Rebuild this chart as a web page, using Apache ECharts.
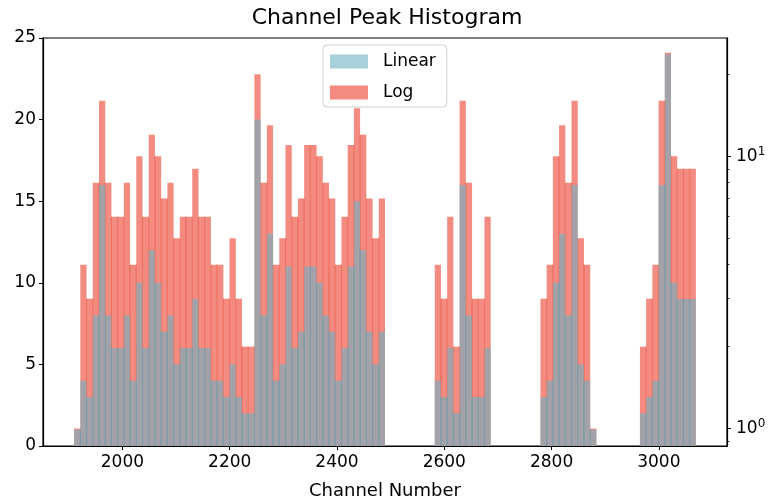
<!DOCTYPE html>
<html><head><meta charset="utf-8">
<script src="https://cdn.jsdelivr.net/npm/echarts@6/dist/echarts.min.js"></script>
<style>html,body{margin:0;padding:0;background:#fff}#c{width:774px;height:500px}</style>
</head><body><div id="c"></div>
<script>
// ---- data ----
const titleText = 'Channel Peak Histogram';
const xAxisName = 'Channel Number';
const seriesNames = ['Linear', 'Log'];
const binLow = 1910.0;      // left edge of first bin
const binHigh = 3069.0;     // right edge of last bin
const counts = [
  1, 4, 3, 8, 16, 8, 6, 6, 8, 4,
  10, 6, 12, 10, 7, 8, 5, 6, 6, 9,
  6, 6, 4, 4, 3, 5, 3, 2, 2, 20,
  8, 13, 4, 5, 11, 6, 7, 11, 11, 10,
  8, 7, 4, 6, 11, 15, 12, 7, 5, 7,
  0, 0, 0, 0, 0, 0, 0, 0, 4, 3,
  6, 2, 16, 8, 3, 3, 6, 0, 0, 0,
  0, 0, 0, 0, 0, 3, 4, 10, 13, 8,
  16, 5, 4, 1, 0, 0, 0, 0, 0, 0,
  0, 2, 3, 4, 16, 24, 10, 9, 9, 9
];
const xTicks = [2000, 2200, 2400, 2600, 2800, 3000];
const yTicksLinear = [0, 5, 10, 15, 20, 25];
const yTicksLog = [1, 10];
const yMinorLog = [0.9, 2, 3, 4, 5, 6, 7, 8, 9, 20];

// ---- axis ranges ----
const xMin = 1852, xMax = 3127;
const linMin = 0, linMax = 25;
const logMin = 0.863, logMax = 27.2;

// ---- build bar rows: [x0, x1, count, seamCount] ----
const binW = (binHigh - binLow) / counts.length;
const rows = [];
counts.forEach((c, i) => {
  if (c > 0) {
    const prev = i > 0 ? counts[i - 1] : 0;
    rows.push([binLow + i * binW, binLow + (i + 1) * binW, c, Math.min(c, prev)]);
  }
});

function makeRender(baseVal, fill, seam) {
  return function (params, api) {
    const x0 = api.value(0), x1 = api.value(1), v = api.value(2), s = api.value(3);
    const pTop0 = api.coord([x0, v]);
    const pTop1 = api.coord([x1, v]);
    const pBase = api.coord([x0, baseVal]);
    const children = [{
      type: 'rect',
      shape: { x: pTop0[0], y: pTop0[1], width: pTop1[0] - pTop0[0], height: pBase[1] - pTop0[1] },
      style: { fill: fill }
    }];
    if (s > 0) {
      const pS = api.coord([x0, s]);
      children.push({
        type: 'line',
        shape: { x1: pTop0[0], y1: pBase[1], x2: pTop0[0], y2: pS[1] },
        style: { stroke: seam, lineWidth: 0.8 }
      });
    }
    return { type: 'group', children: children };
  };
}

const font = 'DejaVu Sans';
const chart = echarts.init(document.getElementById('c'), null, { renderer: 'canvas' });
chart.setOption({
  animation: false,
  backgroundColor: '#fff',
  title: {
    text: titleText, left: 'center', top: 2,
    textStyle: { fontFamily: font, fontSize: 22, fontWeight: 'normal', color: '#000' }
  },
  legend: {
    data: seriesNames, orient: 'vertical', left: 323, top: 45,
    icon: 'rect', itemWidth: 38, itemHeight: 14, itemGap: 14,
    padding: [8, 11, 6, 7],
    borderColor: '#d0d0d0', borderWidth: 1, borderRadius: 4,
    backgroundColor: 'rgba(255,255,255,0.8)',
    textStyle: { fontFamily: font, fontSize: 17, color: '#000', lineHeight: 14, padding: [0, 0, 0, 10] }
  },
  grid: {
    left: 43, right: 47, top: 38, bottom: 54,
    outerBoundsMode: 'none', containLabel: false,
    show: true, borderColor: '#000', borderWidth: 1.2, backgroundColor: 'transparent'
  },
  xAxis: {
    type: 'value', min: xMin, max: xMax,
    name: xAxisName, nameLocation: 'middle', nameGap: 36,
    nameTextStyle: { fontFamily: font, fontSize: 18, color: '#000' },
    axisLine: { show: true, lineStyle: { color: '#000', width: 1.2 } },
    axisTick: { show: true, customValues: xTicks, length: 4, lineStyle: { color: '#000', width: 1 } },
    axisLabel: { customValues: xTicks, fontFamily: font, fontSize: 17, color: '#000', margin: 8,
      formatter: v => String(v) },
    splitLine: { show: false }
  },
  yAxis: [
    {
      type: 'value', min: linMin, max: linMax, interval: 5, position: 'left',
      axisLine: { show: true, lineStyle: { color: '#000', width: 1.2 } },
      axisTick: { show: true, customValues: yTicksLinear, length: 4, lineStyle: { color: '#000', width: 1 } },
      axisLabel: { customValues: yTicksLinear, fontFamily: font, fontSize: 17, color: '#000', margin: 7,
        formatter: v => String(v) },
      splitLine: { show: false }
    },
    {
      type: 'log', logBase: 10, min: logMin, max: logMax, position: 'right',
      axisLine: { show: true, lineStyle: { color: '#000', width: 1.2 } },
      axisTick: { show: true, customValues: yTicksLog, length: 4, lineStyle: { color: '#000', width: 1 } },
      axisLabel: {
        customValues: yTicksLog, margin: 9, color: '#000', fontFamily: font, fontSize: 17,
        formatter: v => '10{sup|' + Math.round(Math.log10(v)) + '}',
        rich: { sup: { fontFamily: font, fontSize: 12, verticalAlign: 'top', padding: [0, 0, 9, 0], color: '#000' } }
      },
      splitLine: { show: false }, minorTick: { show: false }
    },
    {
      type: 'log', logBase: 10, min: logMin, max: logMax, position: 'right',
      axisLine: { show: false },
      axisTick: { show: true, customValues: yMinorLog, length: 2.5, lineStyle: { color: '#000', width: 0.8 } },
      axisLabel: { show: false },
      splitLine: { show: false }
    }
  ],
  series: [
    {
      name: 'Log', type: 'custom', xAxisIndex: 0, yAxisIndex: 1, z: 2,
      itemStyle: { color: '#f48b80' },
      encode: { x: [0, 1], y: 2 },
      renderItem: makeRender(logMin, '#f48b80', 'rgba(236,80,60,0.85)'),
      data: rows
    },
    {
      name: 'Linear', type: 'custom', xAxisIndex: 0, yAxisIndex: 0, z: 3,
      itemStyle: { color: 'rgba(107,178,195,0.6)' },
      encode: { x: [0, 1], y: 2 },
      renderItem: makeRender(0, 'rgba(107,178,195,0.6)', 'rgba(80,165,190,0.75)'),
      data: rows
    }
  ]
});
</script>
</body></html>
